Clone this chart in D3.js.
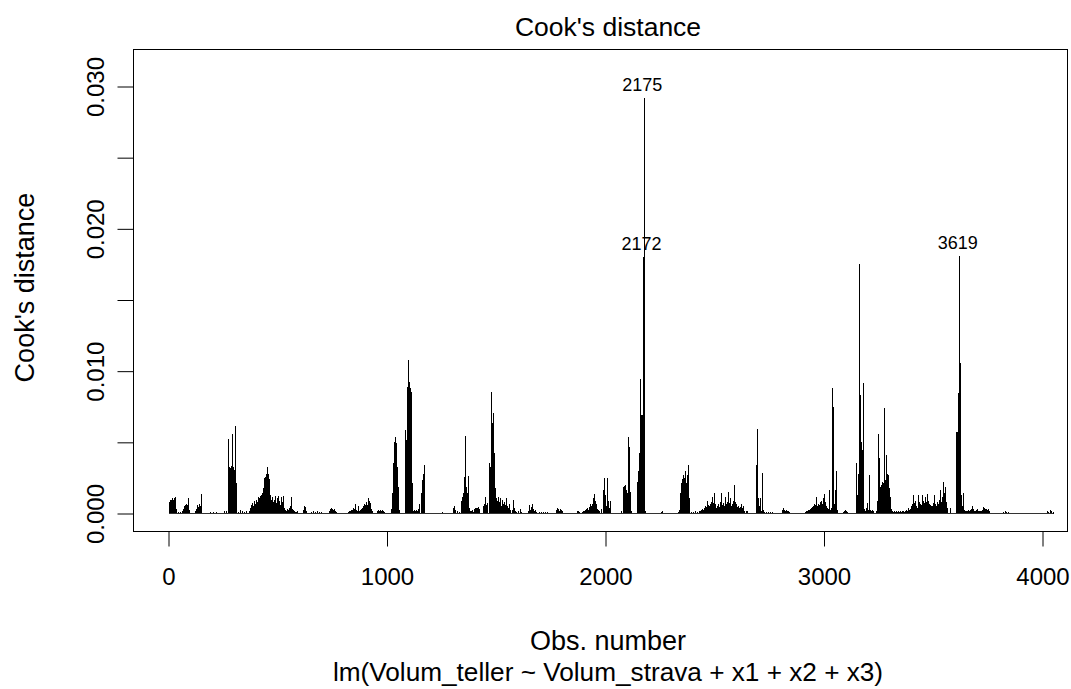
<!DOCTYPE html>
<html>
<head>
<meta charset="utf-8">
<script src="https://cdn.jsdelivr.net/npm/d3@7"></script>
<style>
  html, body { margin: 0; padding: 0; background: #fff; }
  svg { display: block; }
  text { font-family: "Liberation Sans", Arial, sans-serif; fill: #000; }
</style>
</head>
<body>
<svg id="chart" width="1071" height="689"></svg>
<script>
// ---------------- DATA ----------------
const chartTitle = "Cook's distance";
const xLabel = "Obs. number";
const subLabel = "lm(Volum_teller ~ Volum_strava + x1 + x2 + x3)";
const yLabel = "Cook's distance";
const nObs = 4048;
const xTicks = [0, 1000, 2000, 3000, 4000];
const yTicks = [0, 0.005, 0.010, 0.015, 0.020, 0.025, 0.030];
const yTickLabels = ["0.000", "", "0.010", "", "0.020", "", "0.030"];
const labelledObs = [2175, 2172, 3619];

// [observation number, Cook's distance]
const cooks0 = [
[1,0.00084],[6,0.00098],[11,0.00098],[15,0.00106],[20,0.00098],[24,0.00106],[29,0.00113],[33,0.00035],
[43,0.00014],[52,0.00014],[61,0.00021],
[65,0.00035],[70,0.00056],[75,0.00063],[79,0.00070],[84,0.00063],[88,0.00106],[93,0.00028],
[120,0.00021],[125,0.00035],[130,0.00063],[134,0.00049],[139,0.00070],[143,0.00056],[148,0.00134],
[189,0.00014],[203,0.00014],[216,0.00014],[253,0.00021],[262,0.00021],
[271,0.00521],[276,0.00324],[281,0.00317],[285,0.00331],[290,0.00556],[294,0.00324],[299,0.00309],[303,0.00612],[308,0.00211],
[317,0.00014],[326,0.00028],[335,0.00021],[345,0.00014],[354,0.00021],
[368,0.00021],[372,0.00042],[377,0.00063],[381,0.00077],[386,0.00056],[390,0.00091],[395,0.00070],[400,0.00098],[404,0.00084],[409,0.00113],[413,0.00106],[418,0.00120],[422,0.00127],[427,0.00141],[432,0.00176],[436,0.00246],[441,0.00253],[445,0.00281],[450,0.00324],[454,0.00281],[459,0.00239],[464,0.00127],[468,0.00098],[473,0.00113],[477,0.00084],[482,0.00098],[486,0.00120],[491,0.00077],[496,0.00106],[500,0.00120],[505,0.00091],[509,0.00063],[514,0.00113],[519,0.00084],[523,0.00120],[528,0.00042],
[532,0.00028],[537,0.00021],[541,0.00035],[546,0.00028],[551,0.00042],[555,0.00056],[560,0.00113],[564,0.00035],[569,0.00028],[573,0.00021],[578,0.00014],[583,0.00014],[587,0.00021],
[615,0.00028],[619,0.00056],[624,0.00049],[628,0.00021],
[651,0.00014],[660,0.00021],[670,0.00014],[679,0.00021],[688,0.00014],[697,0.00014],
[734,0.00021],[738,0.00035],[743,0.00042],[747,0.00035],[752,0.00028],[757,0.00035],[761,0.00021],[766,0.00014],
[821,0.00014],[825,0.00021],[830,0.00021],[834,0.00028],[839,0.00028],[844,0.00042],[848,0.00035],[853,0.00070],[857,0.00028],[862,0.00021],[866,0.00056],[871,0.00021],[876,0.00028],[880,0.00035],[885,0.00042],[889,0.00056],[894,0.00070],[898,0.00063],[903,0.00084],[908,0.00063],[912,0.00106],[917,0.00091],[921,0.00077],[926,0.00035],[930,0.00021],
[953,0.00021],[958,0.00028],[962,0.00021],[967,0.00028],[972,0.00021],[976,0.00028],[981,0.00021],[985,0.00014]
];
const cooks1000 = [
[1017,0.00035],[1022,0.00141],[1027,0.00352],[1031,0.00499],[1036,0.00535],[1040,0.00492],[1045,0.00324],[1049,0.00183],[1054,0.00028],
[1081,0.00584],[1086,0.00513],[1091,0.00886],[1095,0.01076],[1100,0.00921],[1104,0.00879],[1109,0.00851],[1114,0.00211],
[1118,0.00021],[1123,0.00028],[1127,0.00021],[1132,0.00028],[1136,0.00021],[1141,0.00035],[1146,0.00070],
[1155,0.00141],[1159,0.00232],[1164,0.00281],[1168,0.00338],
[1251,0.00014],
[1301,0.00042],[1306,0.00056],[1310,0.00028],[1319,0.00021],[1329,0.00014],
[1338,0.00091],[1342,0.00113],[1347,0.00141],
[1351,0.00253],[1356,0.00542],[1361,0.00183],[1365,0.00141],[1370,0.00260],[1374,0.00042],
[1379,0.00021],[1384,0.00021],[1388,0.00028],[1393,0.00014],[1397,0.00035],[1402,0.00042],[1406,0.00042],[1411,0.00042],[1416,0.00049],[1420,0.00035],
[1438,0.00056],[1443,0.00070],[1448,0.00113],[1452,0.00063],[1457,0.00077],
[1466,0.00352],[1470,0.00324],[1475,0.00851],[1480,0.00633],[1484,0.00703],[1489,0.00422],[1493,0.00176],
[1498,0.00106],[1502,0.00091],[1507,0.00113],[1512,0.00084],[1516,0.00106],[1521,0.00056],[1525,0.00098],[1530,0.00070],[1535,0.00084],[1539,0.00063],[1544,0.00106],[1548,0.00056],[1553,0.00042],[1557,0.00070],[1562,0.00028],
[1571,0.00028],[1576,0.00098],[1580,0.00042],[1585,0.00021],[1590,0.00014],[1599,0.00021],[1608,0.00035],[1612,0.00014],
[1644,0.00021],[1649,0.00063],[1654,0.00028],[1658,0.00049],[1663,0.00070],[1667,0.00035],[1672,0.00021],[1676,0.00028],[1681,0.00014],
[1695,0.00014],[1704,0.00014],[1713,0.00014],[1722,0.00014],[1731,0.00014],
[1773,0.00028],[1777,0.00042],[1782,0.00035],[1786,0.00021],[1791,0.00035],[1795,0.00028],[1800,0.00021],
[1869,0.00021],[1873,0.00021],[1878,0.00014],
[1892,0.00014],[1896,0.00021],[1901,0.00021],[1905,0.00028],[1910,0.00035],[1914,0.00042],[1919,0.00028],[1924,0.00049],[1928,0.00070],[1933,0.00056],[1937,0.00070],[1942,0.00106],[1946,0.00134],[1951,0.00091],[1956,0.00070],[1960,0.00035],[1965,0.00028],[1969,0.00021],
[1978,0.00035],[1988,0.00162],[1992,0.00246],[1997,0.00127]
];
const cooks2000 = [
[2001,0.00056],[2006,0.00246],[2011,0.00091],[2015,0.00042],[2020,0.00091],
[2070,0.00021],[2079,0.00183],[2084,0.00190],[2088,0.00197],[2093,0.00162],[2098,0.00141],[2102,0.00535],[2107,0.00464],[2111,0.00148],[2116,0.00021],
[2143,0.00218],[2148,0.00302],[2153,0.00422],[2157,0.00943],[2162,0.00689],[2167,0.00689],[2172,0.01801],[2175,0.02917],[2179,0.00021],
[2253,0.00014],[2258,0.00021],
[2331,0.00014],[2336,0.00028],[2340,0.00141],[2345,0.00211],[2349,0.00239],[2354,0.00274],[2358,0.00246],[2363,0.00302],[2368,0.00211],[2372,0.00267],[2377,0.00338],[2381,0.00106],
[2390,0.00014],[2400,0.00014],[2409,0.00021],[2418,0.00014],[2427,0.00021],
[2432,0.00021],[2436,0.00028],[2441,0.00035],[2445,0.00028],[2450,0.00042],[2455,0.00056],[2459,0.00049],[2464,0.00091],[2468,0.00063],[2473,0.00056],[2477,0.00070],[2482,0.00084],[2487,0.00113],[2491,0.00077],[2496,0.00141],[2500,0.00070],[2505,0.00042],[2509,0.00056],[2514,0.00070],[2519,0.00049],[2523,0.00084],[2528,0.00141],[2532,0.00063],[2537,0.00077],[2541,0.00056],[2546,0.00113],[2551,0.00070],[2555,0.00084],[2560,0.00148],[2564,0.00077],[2569,0.00106],[2573,0.00056],[2578,0.00070],[2583,0.00091],[2587,0.00197],[2592,0.00084],[2596,0.00070],[2601,0.00049],[2606,0.00056],[2610,0.00042],[2615,0.00049],[2619,0.00070],[2624,0.00042],[2628,0.00056],[2633,0.00021],
[2642,0.00021],[2647,0.00021],
[2688,0.00338],[2692,0.00591],[2697,0.00106],[2702,0.00056],[2706,0.00106],[2711,0.00021],[2715,0.00288],[2720,0.00028],
[2725,0.00014],[2734,0.00014],[2743,0.00014],[2752,0.00014],[2761,0.00014],[2770,0.00007],
[2807,0.00028],[2811,0.00042],[2816,0.00028],[2821,0.00021],[2825,0.00028],[2830,0.00021],[2834,0.00021],[2839,0.00014],
[2912,0.00014],[2917,0.00021],[2921,0.00021],[2926,0.00028],[2930,0.00028],[2935,0.00035],[2940,0.00042],[2944,0.00049],[2949,0.00056],[2953,0.00070],[2958,0.00063],[2962,0.00113],[2967,0.00056],[2972,0.00070],[2976,0.00063],[2981,0.00084],[2985,0.00091],[2990,0.00070],[2995,0.00106],[2999,0.00134]
];
const cooks3000 = [
[3004,0.00084],[3008,0.00056],[3013,0.00042],[3017,0.00035],[3022,0.00162],[3027,0.00028],
[3031,0.00042],[3036,0.00879],[3040,0.00746],[3045,0.00070],[3049,0.00162],[3054,0.00302],[3059,0.00028],
[3086,0.00014],[3091,0.00021],[3095,0.00028],[3100,0.00021],[3104,0.00014],
[3146,0.00352],[3150,0.00127],[3155,0.00281],[3159,0.01756],[3164,0.00830],[3168,0.00499],[3173,0.00443],[3178,0.00914],[3182,0.00035],
[3187,0.00021],[3191,0.00042],[3196,0.00077],[3200,0.00028],[3205,0.00274],[3210,0.00028],[3214,0.00021],[3219,0.00028],[3223,0.00021],
[3237,0.00021],[3242,0.00091],[3246,0.00556],[3251,0.00387],[3255,0.00183],[3260,0.00197],[3265,0.00218],[3269,0.00211],[3274,0.00739],[3278,0.00232],[3283,0.00408],[3287,0.00281],[3292,0.00267],[3297,0.00176],[3301,0.00113],[3306,0.00035],
[3310,0.00021],[3315,0.00014],[3319,0.00021],[3324,0.00014],[3329,0.00021],[3333,0.00014],[3338,0.00021],[3342,0.00014],[3347,0.00021],[3352,0.00014],[3356,0.00021],[3361,0.00021],[3365,0.00014],[3370,0.00021],[3374,0.00028],[3379,0.00021],[3384,0.00042],[3388,0.00028],
[3393,0.00035],[3397,0.00056],[3402,0.00070],[3406,0.00127],[3411,0.00077],[3416,0.00091],[3420,0.00056],[3425,0.00042],[3429,0.00127],[3434,0.00084],[3438,0.00070],[3443,0.00063],[3448,0.00127],[3452,0.00091],[3457,0.00077],[3461,0.00113],[3466,0.00084],[3471,0.00134],[3475,0.00091],[3480,0.00070],[3484,0.00063],[3489,0.00056],[3493,0.00056],[3498,0.00077],[3503,0.00127],[3507,0.00070],[3512,0.00056],[3516,0.00084],[3521,0.00070],[3525,0.00098],[3530,0.00162],[3535,0.00084],[3539,0.00113],[3544,0.00218],[3548,0.00141],[3553,0.00183],[3557,0.00084],[3562,0.00042],
[3576,0.00042],
[3603,0.00570],[3608,0.00570],[3612,0.00844],[3619,0.01806],[3622,0.01055],[3626,0.00127],[3631,0.00056],[3635,0.00141],[3640,0.00028],
[3644,0.00021],[3649,0.00021],[3654,0.00021],[3658,0.00028],[3663,0.00021],[3667,0.00028],[3672,0.00035],[3676,0.00056],[3681,0.00035],[3686,0.00021],[3690,0.00021],[3695,0.00028],[3699,0.00035],[3704,0.00021],[3708,0.00021],[3713,0.00021],[3718,0.00021],[3722,0.00028],[3727,0.00049],[3731,0.00042],[3736,0.00035],[3741,0.00035],[3745,0.00028],[3750,0.00035],[3754,0.00021],
[3818,0.00014],[3828,0.00021],[3832,0.00014],[3841,0.00014],
[4020,0.00021],[4024,0.00014],[4034,0.00028],[4038,0.00021],[4047,0.00014]
];

// ---------------- CHART ----------------
const cooks = [].concat(cooks0, cooks1000, cooks2000, cooks3000);
const svg = d3.select("#chart");

const x = d3.scaleLinear().domain([0, 4000]).range([168.5, 1042.5]);
const y = d3.scaleLinear().domain([0, 0.030]).range([513.5, 86.5]);
const px = v => Math.round(x(v)) + 0.5; // snap spikes to pixel columns

const box = { left: 133.5, right: 1067.5, top: 49.5, bottom: 531.5 };

// spikes (type = "h")
svg.append("g")
  .attr("shape-rendering", "crispEdges")
  .selectAll("line")
  .data(cooks)
  .join("line")
  .attr("x1", d => px(d[0])).attr("x2", d => px(d[0]))
  .attr("y1", y(0)).attr("y2", d => y(d[1]))
  .attr("stroke", "#000").attr("stroke-width", 1);

// near-zero spikes form a continuous base line across all observations
svg.append("line")
  .attr("shape-rendering", "crispEdges")
  .attr("x1", x(1)).attr("x2", x(nObs))
  .attr("y1", y(0)).attr("y2", y(0))
  .attr("stroke", "#333").attr("stroke-width", 1);

// plot box
svg.append("rect")
  .attr("x", box.left).attr("y", box.top)
  .attr("width", box.right - box.left).attr("height", box.bottom - box.top)
  .attr("fill", "none").attr("stroke", "#000").attr("stroke-width", 1);

// x axis
const xAxis = d3.axisBottom(x).tickValues(xTicks).tickSize(15).tickPadding(24)
  .tickFormat(d3.format("d"));
const gx = svg.append("g").attr("transform", `translate(0,${box.bottom})`).call(xAxis);
gx.select(".domain").remove();
gx.selectAll(".tick line").attr("stroke", "#000");
gx.selectAll(".tick text")
  .attr("font-family", "Liberation Sans, Arial, sans-serif")
  .attr("font-size", 24).attr("fill", "#000").attr("dy", "0.32em")
  .attr("y", 46);

// y axis
const yAxis = d3.axisLeft(y).tickValues(yTicks).tickSize(16)
  .tickFormat((d, i) => yTickLabels[i]);
const gy = svg.append("g").attr("transform", `translate(${box.left},0)`).call(yAxis);
gy.select(".domain").remove();
gy.selectAll(".tick line").attr("stroke", "#000");
gy.selectAll(".tick text")
  .attr("font-family", "Liberation Sans, Arial, sans-serif")
  .attr("font-size", 24).attr("fill", "#000")
  .attr("text-anchor", "middle")
  .attr("x", null).attr("dy", null)
  .attr("transform", "translate(-30,0) rotate(-90)");

// labels of the largest points
const lookup = new Map(cooks.map(d => [d[0], d[1]]));
svg.append("g")
  .selectAll("text")
  .data(labelledObs)
  .join("text")
  .attr("x", d => x(d) - 1.5)
  .attr("y", d => y(lookup.get(d)) - 7)
  .attr("text-anchor", "middle")
  .attr("font-size", 18)
  .text(d => d);

// titles
const cx = 608;
svg.append("text").attr("x", cx).attr("y", 36).attr("text-anchor", "middle")
  .attr("font-size", 26.5).text(chartTitle);
svg.append("text").attr("x", cx).attr("y", 650).attr("text-anchor", "middle")
  .attr("font-size", 27).text(xLabel);
svg.append("text").attr("x", cx).attr("y", 681).attr("text-anchor", "middle")
  .attr("font-size", 26.2).text(subLabel);
svg.append("text")
  .attr("transform", `translate(34,${(box.top + box.bottom) / 2 - 3}) rotate(-90)`)
  .attr("text-anchor", "middle").attr("font-size", 27).text(yLabel);
</script>
</body>
</html>
